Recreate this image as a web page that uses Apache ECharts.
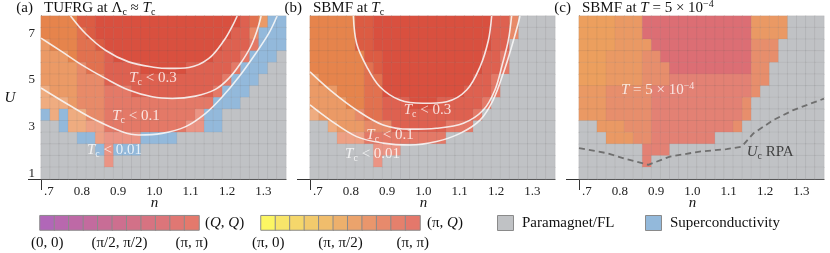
<!DOCTYPE html>
<html><head><meta charset="utf-8">
<script src="https://cdn.jsdelivr.net/npm/echarts@6/dist/echarts.min.js"></script>
<style>html,body{margin:0;padding:0;background:#fff}#c{width:830px;height:253px}</style>
</head><body><div id="c"></div>
<script>
// ---------- data ----------
const nCats = [0.7,0.725,0.75,0.775,0.8,0.825,0.85,0.875,0.9,0.925,0.95,0.975,1.0,1.025,1.05,1.075,1.1,1.125,1.15,1.175,1.2,1.225,1.25,1.275,1.3,1.325,1.35];
const uCats = [1.0,1.5,2.0,2.5,3.0,3.5,4.0,4.5,5.0,5.5,6.0,6.5,7.0,7.5];
const xTicks = [0.7,0.8,0.9,1.0,1.1,1.2,1.3];
const yTicks = [1,3,5,7];

// rows from U=7.5 (top) down to U=1.0; one code per n column
const panelA = [
 "FFFFIIAAAAAAAAAAAAAAAABJGbb",
 "FFFFJIAAAAAAAAAAAAAAABBKbbb",
 "GFFFJJIAAAAAAAAAAAAABBBCbbb",
 "GGGFJJJBAAAAAAAAAAABBBCbbbg",
 "GGGGKJJBBBBAAAAABBBBBCbbbgg",
 "GGGGKKKBBBBBBBBBBBBBCbbbggg",
 "HGGGKKKCCCBBBBBBBBBCbbbgggg",
 "HHHGKKKCCCCCCCCCCCCbbbggggg",
 "bHbHHKKCCCCCCCCCCDbbggggggg",
 "ggbHHLLCCCCCCCCCDDbbggggggg",
 "ggggbbLDDDDbbbbgggggggggggg",
 "ggggggbDbbbgggggggggggggggg",
 "gggggggDggggggggggggggggggg",
 "ggggggggggggggggggggggggggg"
];
const panelB = [
 "FFFFFIIAAAAAAAAAAAAABBKgggg",
 "FFFFFIIAAAAAAAAAAAAABBKgggg",
 "FFFFFIIAAAAAAAAAAAAABBggggg",
 "FFFFFFIIAAAAAAAAAAABBCggggg",
 "FFFFFFJIAAAAAAAAAAABBCggggg",
 "GFFFFFJJAAAAAAAAAABBCgggggg",
 "GGGFFFJJAAAAAAAAABBBCgggggg",
 "GGGGFFJJBBBAAABBBBBCggggggg",
 "HGGGGKJJBBBBBBBBBBCgggggggg",
 "ggHGGGKKKBBBBBBCCCggggggggg",
 "gggLLLCCCCCCCCCgggggggggggg",
 "gggggggDDDggggggggggggggggg",
 "gggggggDggggggggggggggggggg",
 "ggggggggggggggggggggggggggg"
];
const panelC = [
 "TTTTSSSPPPPPPPPPPPPSSSSgggg",
 "TTTTSSSPPPPPPPPPPPPSSSSgggg",
 "TTTTSSSSPPPPPPPPPPPRRRggggg",
 "TTTSSSSRRPPPPPPPPPPRRRggggg",
 "TTTSSSSRRRPPPPPPPPPRRgggggg",
 "TTTSSSSRRRQQQQQQQQQRRgggggg",
 "SSSRRRRRQQQQQQQQQQQRggggggg",
 "SSSRRRRRQQQQQQQQQQRgggggggg",
 "SSSRRRRRQQQQQQQQQQRgggggggg",
 "ggSSSRRRQQQQQQQQQRggggggggg",
 "gggSSSRRQQQQQQQgggggggggggg",
 "gggggggQQQggggggggggggggggg",
 "gggggggQggggggggggggggggggg",
 "ggggggggggggggggggggggggggg"
];

// contour lines (n, U)
const curveA1 = [[0.769,7.75],[0.810,7.0],[0.865,6.28],[0.929,5.78],[1.003,5.54],[1.040,5.5],[1.095,5.54],[1.150,5.93],[1.192,6.71],[1.216,7.36],[1.228,7.75]];
const curveA2 = [[0.6875,6.80],[0.746,6.21],[0.801,5.64],[0.865,5.07],[0.929,4.57],[0.994,4.28],[1.049,4.21],[1.113,4.31],[1.168,4.6],[1.205,5.07],[1.237,5.71],[1.265,6.43],[1.283,7.14],[1.294,7.75]];
const curveA3 = [[0.6875,4.66],[0.773,3.85],[0.838,3.28],[0.911,2.78],[0.957,2.64],[1.021,2.71],[1.086,3.0],[1.141,3.57],[1.187,4.28],[1.233,5.14],[1.279,6.14],[1.315,7.0],[1.338,7.75]];
const curveB1 = [[0.807,7.75],[0.816,6.57],[0.844,5.57],[0.880,4.71],[0.935,4.14],[0.999,4.0],[1.064,4.07],[1.119,4.57],[1.156,5.57],[1.179,6.71],[1.188,7.75]];
const curveB2 = [[0.6875,5.35],[0.743,4.57],[0.816,3.71],[0.889,3.07],[0.963,2.89],[1.036,2.93],[1.110,3.14],[1.165,3.71],[1.197,4.57],[1.218,5.71],[1.234,6.71],[1.243,7.75]];
const curveB3 = [[0.6875,3.93],[0.743,3.28],[0.816,2.57],[0.889,2.29],[0.963,2.21],[1.036,2.36],[1.101,2.71],[1.156,3.28],[1.192,4.14],[1.220,5.29],[1.243,6.43],[1.261,7.43],[1.266,7.75]];
const rpaC = [[0.6875,2.08],[0.764,1.86],[0.819,1.6],[0.878,1.36],[0.938,1.71],[1.020,1.93],[1.094,2.03],[1.136,2.14],[1.168,2.71],[1.223,3.28],[1.278,3.71],[1.3625,4.2]];

// label anchors (n, U)
const labelsA = [[0.996,5.09,'0.3'],[0.949,3.46,'0.1'],[0.890,2.0,'0.01']];
const labelsB = [[1.011,3.71,'0.3'],[0.908,2.64,'0.1'],[0.860,1.82,'0.01']];
const labelTC = [0.904,4.57];
const labelRPA = [1.214,1.91];

// legend strips
const legendSteps = [0,1,2,3,4,5,6,7,8,9,10];
const qqLabels = ['(0, 0)','(π/2, π/2)','(π, π)'];
const piqLabels = ['(π, 0)','(π, π/2)','(π, π)'];

// ---------- styles ----------
const codes = 'ABCDFGHIJKLPQRSTgb';
const palette = {
  A:'#D9503F', B:'#DE6150', C:'#E47967', D:'#EB9484',
  F:'#E6844C', G:'#EB9A66', H:'#EFAC80',
  I:'#DC5C43', J:'#E2714F', K:'#E88A68', L:'#EEA084',
  P:'#DC6E74', Q:'#E38174', R:'#E78E6C', S:'#EA9964', T:'#EC9F5E',
  g:'#C0C2C5', b:'#93B9DB'
};
const qqColors = ['#B167B8','#B868AE','#BE69A6','#C36B9E','#C86D96','#CD6F8F','#D27188','#D77381','#DC757A','#E07773','#E4796C'];
const piqColors = ['#FCF663','#F8E56A','#F5D76B','#F2CA6C','#F0BD6C','#EDB06C','#EBA36C','#E9966C','#E78A6C','#E5806C','#E4786B'];

const FONT = '"Liberation Serif","DejaVu Serif",serif';
const lefts = [41, 310, 579];
const GT = 16, GH = 163, GW = 245;

function cells(rows){
  const out = [];
  rows.forEach((row, r) => {
    let s = (row + 'ggggggggggggggggggggggggggg').slice(0, nCats.length);
    for (let c = 0; c < s.length; c++) out.push([c, uCats.length - 1 - r, codes.indexOf(s[c])]);
  });
  return out;
}

const grids = [], xAxes = [], yAxes = [], series = [];
lefts.forEach((l, i) => {
  grids.push({left:l, top:GT, width:GW, height:GH, outerBoundsMode:'none', containLabel:false});
  xAxes.push({type:'category', gridIndex:i, data:nCats.map(String), show:false, position:'top'});
  xAxes.push({type:'value', gridIndex:i, min:0.6875, max:1.3625, position:'bottom',
    axisLine:{show:true, onZero:false, lineStyle:{color:'#333', width:1}},
    axisTick:{show:true, inside:true, length:4, customValues:xTicks, lineStyle:{color:'#333'}},
    axisLabel:{show:true, customValues:xTicks, margin:6, fontFamily:FONT, fontSize:13, color:'#222',
      formatter: v => Math.abs(v-0.7)<1e-6 ? '{h|0}.7' : v.toFixed(1),
      rich:{h:{color:'rgba(0,0,0,0)', fontFamily:FONT, fontSize:13}}},
    splitLine:{show:false}});
  yAxes.push({type:'category', gridIndex:i, data:uCats.map(String), show:false, position:'right'});
  yAxes.push({type:'value', gridIndex:i, min:0.75, max:7.75, position:'left',
    axisLine:{show:true, onZero:false, lineStyle:{color:'#333', width:1}},
    axisTick:{show:true, inside:true, length:4, customValues:yTicks, lineStyle:{color:'#333'}},
    axisLabel:{show:i===0, customValues:yTicks, margin:6, fontFamily:FONT, fontSize:13, color:'#222'},
    splitLine:{show:false}});
});
// legend strip grids
[40, 261].forEach((l, k) => {
  grids.push({left:l, top:215.7, width:159, height:14.3, outerBoundsMode:'none', containLabel:false});
  xAxes.push({type:'category', gridIndex:3+k, data:legendSteps.map(String), show:false});
  yAxes.push({type:'category', gridIndex:3+k, data:['0'], show:false});
});

const cellStyle = {borderColor:'rgba(110,110,110,0.16)', borderWidth:0.7};
[panelA, panelB, panelC].forEach((p, i) => {
  series.push({type:'heatmap', xAxisIndex:2*i, yAxisIndex:2*i, data:cells(p), itemStyle:cellStyle,
    emphasis:{disabled:true}, silent:true});
});
series.push({type:'heatmap', xAxisIndex:6, yAxisIndex:6, data:legendSteps.map(s=>[s,0,s]),
  itemStyle:{borderColor:'#8a8a8a', borderWidth:1}, silent:true});
series.push({type:'heatmap', xAxisIndex:7, yAxisIndex:7, data:legendSteps.map(s=>[s,0,s]),
  itemStyle:{borderColor:'#8a8a8a', borderWidth:1}, silent:true});

const whiteLine = {color:'rgba(248,248,248,0.88)', width:1.6};
[[curveA1,curveA2,curveA3,1],[curveB1,curveB2,curveB3,3]].forEach(g => {
  for (let k=0;k<3;k++) series.push({type:'line', xAxisIndex:g[3], yAxisIndex:g[3], data:g[k],
    smooth:0.35, symbol:'none', lineStyle:whiteLine, silent:true, z:5});
});
series.push({type:'line', xAxisIndex:5, yAxisIndex:5, data:rpaC, smooth:false, symbol:'none',
  lineStyle:{color:'#6f6f6f', width:1.8, type:[6,4]}, silent:true, z:5});

const lblRich = (col) => ({
  i:{fontFamily:FONT, fontSize:15, fontStyle:'italic', color:col, lineHeight:18},
  r:{fontFamily:FONT, fontSize:15, color:col, lineHeight:18},
  s:{fontFamily:FONT, fontSize:10, color:col, lineHeight:11, verticalAlign:'bottom'},
  p:{fontFamily:FONT, fontSize:10, color:col, lineHeight:11, verticalAlign:'top'}
});
function textSeries(axis, pts, fmt, col){
  return {type:'scatter', xAxisIndex:axis, yAxisIndex:axis, symbolSize:0, silent:true, z:8,
    data:pts.map(p=>({value:[p[0],p[1]], txt:p[2]})),
    label:{show:true, position:'inside', formatter: fmt, rich:lblRich(col)}};
}
series.push(textSeries(1, labelsA, p => '{i|T}{s|c}{r| < '+p.data.txt+'}', '#fff'));
series.push(textSeries(3, labelsB, p => '{i|T}{s|c}{r| < '+p.data.txt+'}', '#fff'));
series.push(textSeries(5, [labelTC], () => '{i|T}{r| = 5 × 10}{p|−4}', '#fff'));
series.push(textSeries(5, [labelRPA], () => '{i|U}{s|c}{r| RPA}', '#222'));

const visualMap = [
  {type:'piecewise', show:false, seriesIndex:[0,1,2], dimension:2,
    pieces: codes.split('').map((k,i)=>({value:i, color:palette[k]}))},
  {type:'piecewise', show:false, seriesIndex:3, dimension:2,
    pieces: qqColors.map((c,i)=>({value:i, color:c}))},
  {type:'piecewise', show:false, seriesIndex:4, dimension:2,
    pieces: piqColors.map((c,i)=>({value:i, color:c}))}
];

// ---------- graphic (titles, axis extensions, legend texts) ----------
const gRich = {
  i:{fontFamily:FONT, fontSize:15, fontStyle:'italic', fill:'#111', lineHeight:18},
  r:{fontFamily:FONT, fontSize:15, fill:'#111', lineHeight:18},
  s:{fontFamily:FONT, fontSize:10, fill:'#111', lineHeight:11, verticalAlign:'bottom'},
  p:{fontFamily:FONT, fontSize:10, fill:'#111', lineHeight:11, verticalAlign:'top'}
};
function txt(x, y, text, align){
  return {type:'text', x:x, y:y, silent:true, style:{text:text, align:align||'left', verticalAlign:'middle',
    font:'15px '+FONT, fill:'#111', rich:gRich}};
}
const graphic = [];
const tags = ['(a)','(b)','(c)'];
const titles = ['{r|TUFRG at Λ}{s|c}{r| ≈ }{i|T}{s|c}', '{r|SBMF at }{i|T}{s|c}', '{r|SBMF at }{i|T}{r| = 5 × 10}{p|−4}'];
lefts.forEach((l, i) => {
  graphic.push(txt(l-8, 8, '{r|'+tags[i]+'}', 'right'));
  graphic.push(txt(l+3, 8, titles[i], 'left'));
  graphic.push({type:'line', silent:true, shape:{x1:l-13, y1:GT+GH+0.5, x2:l, y2:GT+GH+0.5}, style:{stroke:'#333', lineWidth:1}});
  graphic.push({type:'line', silent:true, shape:{x1:l+0.5, y1:GT+GH, x2:l+0.5, y2:GT+GH+11}, style:{stroke:'#333', lineWidth:1}});
  graphic.push(txt(l + (1.0-0.6875)*GW/0.675, 203, '{i|n}', 'center'));
});
graphic.push(txt(10, 98, '{i|U}', 'center'));
graphic.push(txt(205, 222.7, '{r|(}{i|Q}{r|, }{i|Q}{r|)}', 'left'));
graphic.push(txt(427, 222.7, '{r|(π, }{i|Q}{r|)}', 'left'));
[0,5,10].forEach((s,k) => {
  graphic.push(txt(40 + 159/11*(s+0.5), 243, '{r|'+qqLabels[k]+'}', 'center'));
  graphic.push(txt(261 + 159/11*(s+0.5), 243, '{r|'+piqLabels[k]+'}', 'center'));
});
graphic.push({type:'rect', silent:true, shape:{x:497.5, y:215.5, width:16, height:15}, style:{fill:palette.g, stroke:'#8a8a8a', lineWidth:1}});
graphic.push(txt(522, 222.7, '{r|Paramagnet/FL}', 'left'));
graphic.push({type:'rect', silent:true, shape:{x:645.5, y:215.5, width:16, height:15}, style:{fill:palette.b, stroke:'#8a8a8a', lineWidth:1}});
graphic.push(txt(670, 222.7, '{r|Superconductivity}', 'left'));

const chart = echarts.init(document.getElementById('c'));
chart.setOption({animation:false, backgroundColor:'#fff', grid:grids, xAxis:xAxes, yAxis:yAxes,
  visualMap:visualMap, series:series, graphic:graphic});
</script></body></html>
